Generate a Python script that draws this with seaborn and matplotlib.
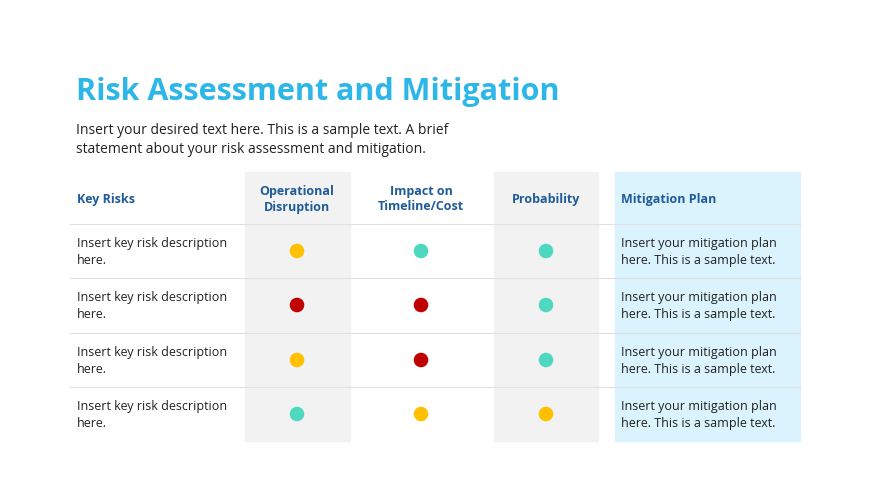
import matplotlib
matplotlib.use("Agg")
import matplotlib.pyplot as plt
import seaborn as sns
import pandas as pd

title = "Risk Assessment and Mitigation"
subtitle = "Insert your desired text here. This is a sample text. A brief\nstatement about your risk assessment and mitigation."
headers = ["Key Risks", "Operational\nDisruption", "Impact on\nTimeline/Cost", "Probability", "Mitigation Plan"]
risks = ["Insert key risk description\nhere."] * 4
plans = ["Insert your mitigation plan\nhere. This is a sample text."] * 4
operational = ["Medium", "High", "Medium", "Low"]
impact = ["Low", "High", "High", "Medium"]
probability = ["Low", "Low", "Low", "Medium"]
level_colors = {"High": "#C00000", "Medium": "#FFC000", "Low": "#4ED8C0"}

plt.rcParams["font.family"] = "Open Sans"
fig = plt.figure(figsize=(8.7, 4.89), dpi=100)
ax = fig.add_axes([0, 0, 1, 1])
ax.set_xlim(0, 870); ax.set_ylim(489, 0); ax.axis("off")

# column bands
ax.add_patch(plt.Rectangle((245, 173), 105, 269, color="#F2F2F2", zorder=0))
ax.add_patch(plt.Rectangle((494, 173), 104, 269, color="#F2F2F2", zorder=0))
ax.add_patch(plt.Rectangle((615, 173), 185, 269, color="#DAF3FD", zorder=0))

ax.text(76, 92, title, fontsize=22, fontweight="bold", color="#2DB6E8", va="center")
ax.text(76, 140, subtitle, fontsize=10, color="#222222", va="center", linespacing=1.3)

hx = [77, 297, 421, 546, 621]
for i, h in enumerate(headers):
    ax.text(hx[i], 199, h, fontsize=9, fontweight="bold", color="#1F5C99",
            ha="left" if i in (0, 4) else "center", va="center", linespacing=1.3)

row_y = [252, 306, 361, 415]
for y in [225, 279, 334, 388]:
    ax.plot([70, 800], [y, y], color="#E0E0E0", lw=0.8, zorder=1)
for r, y in enumerate(row_y):
    ax.text(77, y, risks[r], fontsize=9, color="#222222", va="center", linespacing=1.35)
    ax.text(621, y, plans[r], fontsize=9, color="#222222", va="center", linespacing=1.35)

col_x = [297, 421, 546]
rows = []
for c, series in enumerate([operational, impact, probability]):
    for r, lvl in enumerate(series):
        rows.append({"x": col_x[c], "y": row_y[r], "level": lvl})
df = pd.DataFrame(rows)
sns.scatterplot(data=df, x="x", y="y", hue="level", palette=level_colors,
                s=110, edgecolor="none", legend=False, ax=ax, zorder=3)
ax.set_xlim(0, 870); ax.set_ylim(489, 0); ax.axis("off")
fig.savefig("out.png", dpi=100, facecolor="white")
